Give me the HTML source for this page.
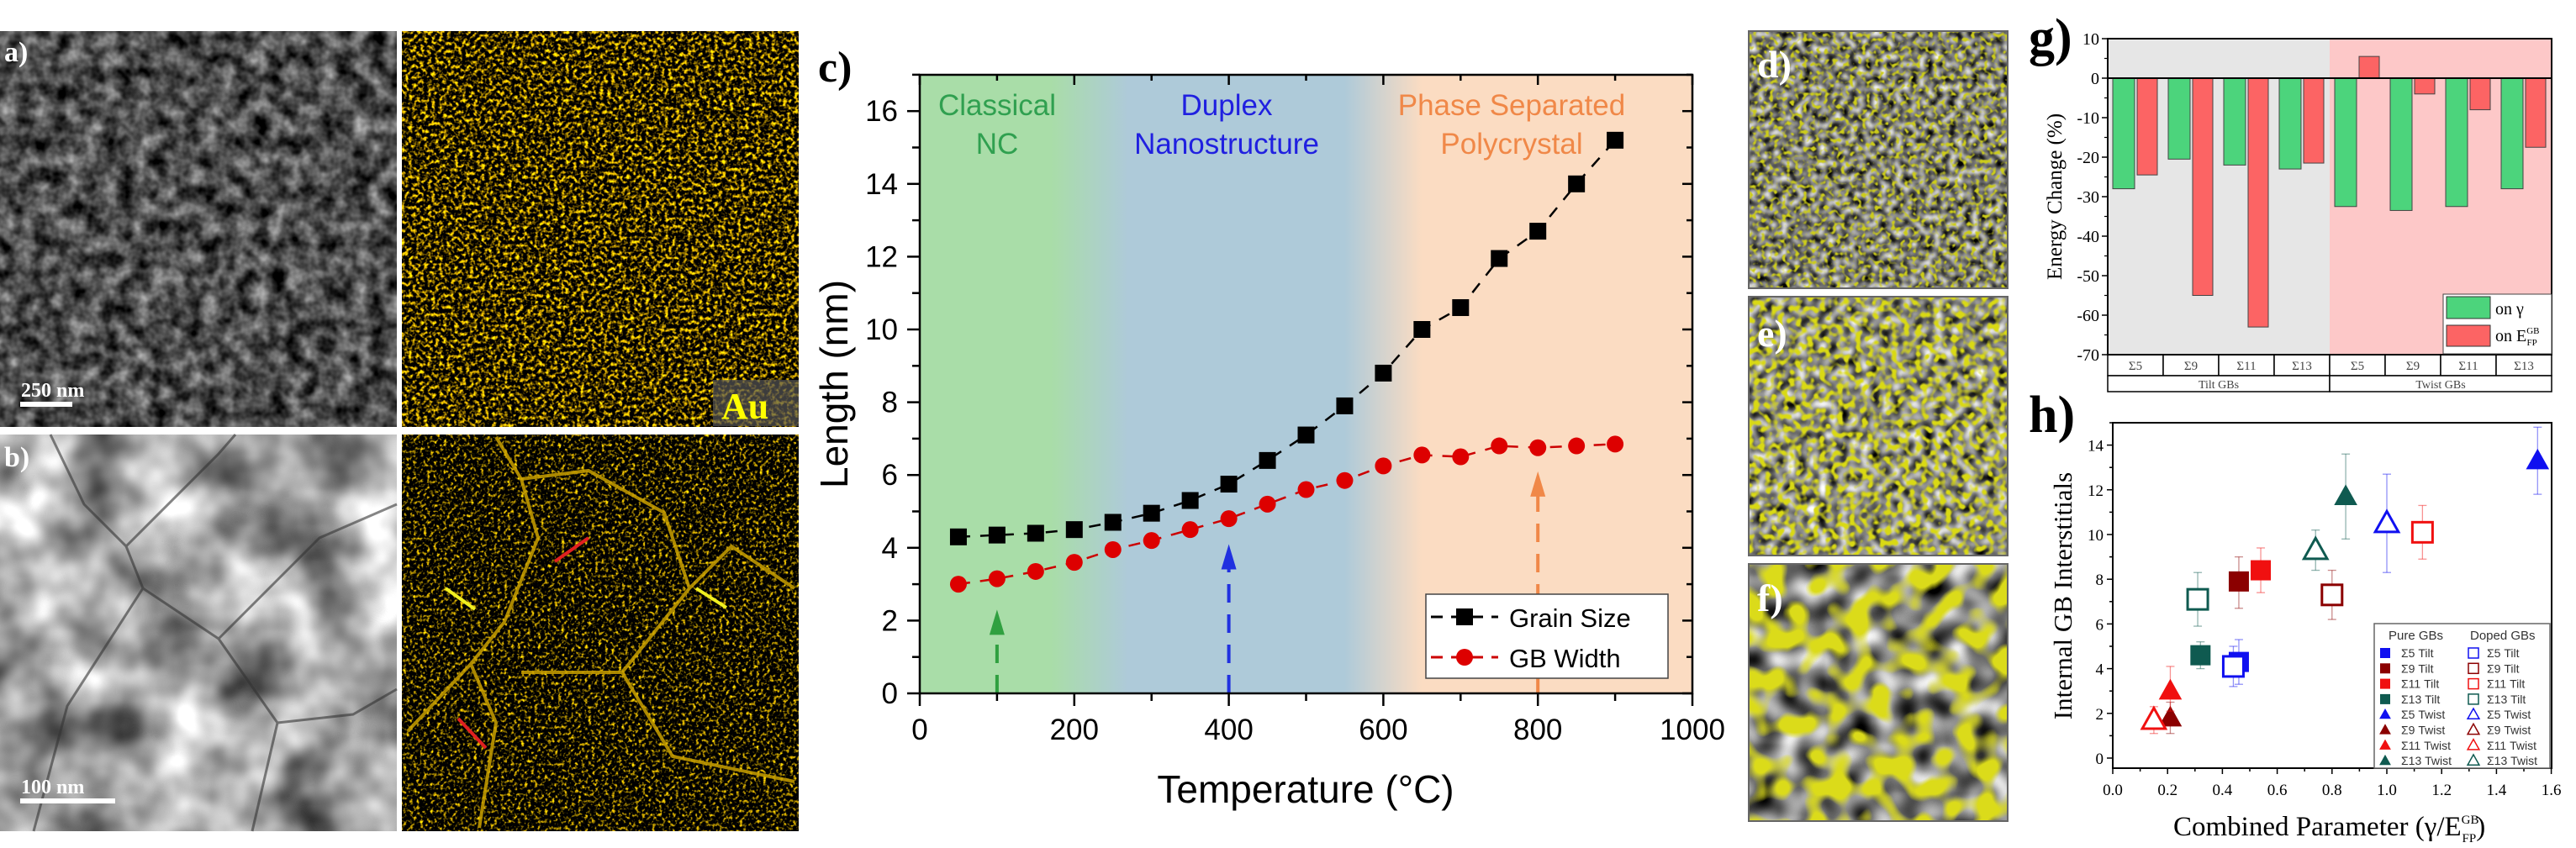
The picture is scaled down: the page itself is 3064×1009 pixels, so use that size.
<!DOCTYPE html><html><head><meta charset="utf-8"><style>html,body{margin:0;padding:0;background:#fff}svg{display:block}filter{color-interpolation-filters:sRGB}</style></head><body>
<svg id="s" width="3064" height="1009" xmlns="http://www.w3.org/2000/svg" font-family="Liberation Sans, sans-serif">
<defs>
<filter id="sem" x="0" y="0" width="100%" height="100%" color-interpolation-filters="sRGB"><feTurbulence type="fractalNoise" baseFrequency="0.05" numOctaves="3" seed="3"/><feColorMatrix type="matrix" values="1.0 0 0 0 -0.2  1.0 0 0 0 -0.2  1.0 0 0 0 -0.2  0 0 0 0 1"/></filter>
<filter id="tem" x="0" y="0" width="100%" height="100%" color-interpolation-filters="sRGB"><feTurbulence type="fractalNoise" baseFrequency="0.012" numOctaves="3" seed="7"/><feColorMatrix type="matrix" values="1.4 0 0 0 -0.05  1.4 0 0 0 -0.05  1.4 0 0 0 -0.05  0 0 0 0 1"/></filter>
<filter id="au" x="0" y="0" width="100%" height="100%" color-interpolation-filters="sRGB"><feTurbulence type="fractalNoise" baseFrequency="0.22" numOctaves="2" seed="5"/><feColorMatrix type="matrix" values="3.6 0 0 0 -1.6  2.9 0 0 0 -1.3  0 0 0 0 0  0 0 0 0 1"/></filter>
<filter id="au2" x="0" y="0" width="100%" height="100%" color-interpolation-filters="sRGB"><feTurbulence type="fractalNoise" baseFrequency="0.25" numOctaves="2" seed="9"/><feColorMatrix type="matrix" values="3.6 0 0 0 -1.8  2.9 0 0 0 -1.45  0 0 0 0 0  0 0 0 0 1"/></filter>
<filter id="gr1" x="0" y="0" width="100%" height="100%" color-interpolation-filters="sRGB">
<feTurbulence type="fractalNoise" baseFrequency="0.11" numOctaves="1" seed="2" result="n"/><feColorMatrix in="n" type="matrix" values="1.6 0 0 0 -0.35  1.6 0 0 0 -0.35  1.6 0 0 0 -0.35  0 0 0 0 1" result="g"/>
<feTurbulence type="fractalNoise" baseFrequency="0.2" numOctaves="1" seed="12" result="m"/><feColorMatrix in="m" type="matrix" values="0 0 0 0 0.8  0 0 0 0 0.8  0 0 0 0 0.1  5 0 0 0 -2.5" result="y"/>
<feComposite in="y" in2="g" operator="over"/></filter>
<filter id="gr2" x="0" y="0" width="100%" height="100%" color-interpolation-filters="sRGB">
<feTurbulence type="fractalNoise" baseFrequency="0.08" numOctaves="1" seed="4" result="n"/><feColorMatrix in="n" type="matrix" values="1.7 0 0 0 -0.35  1.7 0 0 0 -0.35  1.7 0 0 0 -0.35  0 0 0 0 1" result="g"/>
<feTurbulence type="fractalNoise" baseFrequency="0.14" numOctaves="1" seed="14" result="m"/><feColorMatrix in="m" type="matrix" values="0 0 0 0 0.85  0 0 0 0 0.85  0 0 0 0 0.08  5 0 0 0 -2.3" result="y"/>
<feComposite in="y" in2="g" operator="over"/></filter>
<filter id="gr3" x="0" y="0" width="100%" height="100%" color-interpolation-filters="sRGB">
<feTurbulence type="fractalNoise" baseFrequency="0.035" numOctaves="1" seed="8" result="n"/><feColorMatrix in="n" type="matrix" values="1.8 0 0 0 -0.4  1.8 0 0 0 -0.4  1.8 0 0 0 -0.4  0 0 0 0 1" result="g"/>
<feTurbulence type="fractalNoise" baseFrequency="0.04" numOctaves="1" seed="18" result="m"/><feColorMatrix in="m" type="matrix" values="0 0 0 0 0.86  0 0 0 0 0.86  0 0 0 0 0.1  6 0 0 0 -2.7" result="y"/>
<feComposite in="y" in2="g" operator="over"/></filter>
<linearGradient id="bg" x1="0" x2="1" y1="0" y2="0">
<stop offset="0" stop-color="#a9dda8"/><stop offset="0.17" stop-color="#a9dda8"/><stop offset="0.27" stop-color="#aecad9"/><stop offset="0.55" stop-color="#aecad9"/><stop offset="0.65" stop-color="#fbdcc2"/><stop offset="1" stop-color="#fbdcc2"/></linearGradient>
</defs>
<rect x="0" y="37" width="472" height="471" fill="#444" filter="url(#sem)"/>
<rect x="478" y="37" width="472" height="471" fill="#000" filter="url(#au)"/>
<rect x="0" y="517" width="472" height="472" fill="#999" filter="url(#tem)"/>
<g fill="none" stroke="#333" stroke-width="3" opacity="0.6">
<path d="M60 517 L100 600 L150 650 L170 700 L80 840 L40 989"/><path d="M150 650 L260 540 L280 517"/><path d="M170 700 L260 760 L330 860 L300 989"/><path d="M260 760 L380 640 L472 600"/><path d="M330 860 L420 850 L472 820"/></g>
<rect x="478" y="517" width="472" height="472" fill="#000" filter="url(#au2)"/>
<g fill="none" stroke="#c9a000" stroke-width="4" opacity="0.85">
<path d="M590 520 L620 570 L640 640 L600 740 L560 790 L590 860 L570 985"/>
<path d="M620 570 L700 560 L790 610 L820 700 L740 800 L620 800"/>
<path d="M820 700 L870 650 L945 700"/><path d="M740 800 L800 900 L945 930"/><path d="M560 790 L485 870"/>
</g>
<g stroke-width="4"><line x1="700" y1="640" x2="660" y2="668" stroke="#e02020"/><line x1="545" y1="855" x2="578" y2="890" stroke="#e02020"/>
<line x1="530" y1="700" x2="565" y2="725" stroke="#f0f020"/><line x1="864" y1="723" x2="828" y2="700" stroke="#f0f020"/></g>
<g font-family="Liberation Serif, serif" font-weight="bold" fill="#fff">
<text x="5" y="73" font-size="34">a)</text><text x="5" y="555" font-size="34">b)</text>
<text x="25" y="472" font-size="24">250 nm</text><text x="25" y="944" font-size="24">100 nm</text></g>
<rect x="24" y="478" width="62" height="6" fill="#fff"/><rect x="24" y="950" width="113" height="6" fill="#fff"/>
<rect x="848" y="452" width="102" height="55" fill="#555" opacity="0.7"/>
<text x="858" y="498" font-family="Liberation Serif, serif" font-weight="bold" font-size="44" fill="#ffff00">Au</text>
<rect x="1094" y="89" width="919" height="736" fill="url(#bg)"/>
<g id="c"></g>
<text x="973" y="97" font-family="Liberation Serif, serif" font-weight="bold" font-size="52">c)</text>
<g font-size="35" text-anchor="middle">
<text x="1186" y="137" fill="#30a050">Classical</text><text x="1186" y="183" fill="#30a050">NC</text>
<text x="1459" y="137" fill="#2020e0">Duplex</text><text x="1459" y="183" fill="#2020e0">Nanostructure</text>
<text x="1798" y="137" fill="#f08848">Phase Separated</text><text x="1798" y="183" fill="#f08848">Polycrystal</text></g>
<text x="1553" y="955" font-size="46" text-anchor="middle">Temperature (°C)</text>
<text transform="translate(1008,457) rotate(-90)" font-size="46" text-anchor="middle">Length (nm)</text>
<rect x="1696" y="707" width="288" height="100" fill="#fff" stroke="#444" stroke-width="1.5"/>
<line x1="1702" y1="734" x2="1782" y2="734" stroke="#000" stroke-width="3" stroke-dasharray="14,10"/><rect x="1732" y="724" width="20" height="20" fill="#000"/>
<line x1="1702" y1="782" x2="1782" y2="782" stroke="#c00" stroke-width="3" stroke-dasharray="14,10"/><circle cx="1742" cy="782" r="10" fill="#d00"/>
<text x="1795" y="746" font-size="31">Grain Size</text><text x="1795" y="794" font-size="31">GB Width</text>
<rect x="2080" y="37" width="308" height="306" fill="#888" filter="url(#gr1)"/>
<rect x="2080" y="353" width="308" height="308" fill="#888" filter="url(#gr2)"/>
<rect x="2080" y="671" width="308" height="306" fill="#cc2" filter="url(#gr3)"/>
<g fill="none" stroke="#666" stroke-width="2"><rect x="2080" y="37" width="308" height="306"/><rect x="2080" y="353" width="308" height="308"/><rect x="2080" y="671" width="308" height="306"/></g>
<g font-family="Liberation Serif, serif" font-weight="bold" font-size="46" fill="#fff">
<text x="2090" y="92">d)</text><text x="2090" y="412">e)</text><text x="2090" y="727">f)</text></g>
<rect x="2507" y="46" width="264" height="376" fill="#e6e6e6"/><rect x="2771" y="46" width="264" height="376" fill="#fdc8c8"/>
<g id="g"></g>
<text x="2413" y="65" font-family="Liberation Serif, serif" font-weight="bold" font-size="62">g)</text>
<text x="2413" y="514" font-family="Liberation Serif, serif" font-weight="bold" font-size="62">h)</text>
<g id="h"></g>
</svg>
<script>
const NS="http://www.w3.org/2000/svg";
function el(p,t,a,txt){const e=document.createElementNS(NS,t);for(const k in a)e.setAttribute(k,a[k]);if(txt!==undefined)e.textContent=txt;p.appendChild(e);return e;}
const SER='Liberation Serif, serif';
const c=document.getElementById('c');
const cx=T=>1094+T*0.919, cy=L=>825-L*43.3;
const Ts=[50,100,150,200,250,300,350,400,450,500,550,600,650,700,750,800,850,900];
const G=[4.3,4.35,4.4,4.5,4.7,4.95,5.3,5.75,6.4,7.1,7.9,8.8,10.0,10.6,11.95,12.7,14.0,15.2];
const W=[3.0,3.15,3.35,3.6,3.95,4.2,4.5,4.8,5.2,5.6,5.85,6.25,6.55,6.5,6.8,6.75,6.8,6.85];
[[100,2.3,'#30a040'],[400,4.1,'#2030e0'],[800,6.1,'#f08848']].forEach(([T,L,col])=>{
el(c,'line',{x1:cx(T),y1:825,x2:cx(T),y2:cy(L)+26,stroke:col,'stroke-width':4,'stroke-dasharray':'22,14'});
el(c,'polygon',{points:`${cx(T)-9},${cy(L)+30} ${cx(T)+9},${cy(L)+30} ${cx(T)},${cy(L)}`,fill:col});});
el(c,'polyline',{points:Ts.map((t,i)=>cx(t)+','+cy(G[i])).join(' '),fill:'none',stroke:'#000','stroke-width':2.5,'stroke-dasharray':'14,12'});
el(c,'polyline',{points:Ts.map((t,i)=>cx(t)+','+cy(W[i])).join(' '),fill:'none',stroke:'#c00','stroke-width':2.5,'stroke-dasharray':'14,12'});
Ts.forEach((t,i)=>{el(c,'rect',{x:cx(t)-10,y:cy(G[i])-10,width:20,height:20,fill:'#000'});el(c,'circle',{cx:cx(t),cy:cy(W[i]),r:10,fill:'#d00'});});
el(c,'rect',{x:1094,y:89,width:919,height:736,fill:'none',stroke:'#000','stroke-width':2.5});
for(let T=0;T<=1000;T+=100){const M=T%200==0;el(c,'line',{x1:cx(T),x2:cx(T),y1:825,y2:825+(M?15:9),stroke:'#000','stroke-width':2.5});el(c,'line',{x1:cx(T),x2:cx(T),y1:89,y2:89+(M?12:7),stroke:'#000','stroke-width':2.5});
if(M)el(c,'text',{x:cx(T),y:880,'font-size':35,'text-anchor':'middle'},T);}
for(let L=0;L<=17;L++){const M=L%2==0;el(c,'line',{x1:1094,x2:1094-(M?15:9),y1:cy(L),y2:cy(L),stroke:'#000','stroke-width':2.5});el(c,'line',{x1:2013,x2:2013-(M?12:7),y1:cy(L),y2:cy(L),stroke:'#000','stroke-width':2.5});
if(M)el(c,'text',{x:1068,y:cy(L)+12,'font-size':35,'text-anchor':'end'},L);}
const g=document.getElementById('g');
const gy=v=>93-v*4.7;
const gv=[[-28,-24.5],[-20.5,-55],[-22,-63],[-23,-21.5],[-32.5,5.5],[-33.5,-4],[-32.5,-8],[-28,-17.5]];
const gw=66;
gv.forEach((v,i)=>{const x0=2507+i*gw;
el(g,'rect',{x:x0+6,y:Math.min(gy(0),gy(v[0])),width:26,height:Math.abs(gy(v[0])-gy(0)),fill:'#4cd47c',stroke:'#444','stroke-width':1});
el(g,'rect',{x:x0+35,y:Math.min(gy(0),gy(v[1])),width:24,height:Math.abs(gy(v[1])-gy(0)),fill:'#fc6464',stroke:'#444','stroke-width':1});
el(g,'rect',{x:x0,y:422,width:gw,height:25,fill:'#fff',stroke:'#000','stroke-width':1.5});
el(g,'text',{x:x0+gw/2,y:440,'font-size':15,'text-anchor':'middle','font-family':SER,fill:'#444'},['Σ5','Σ9','Σ11','Σ13'][i%4]);});
el(g,'rect',{x:2507,y:447,width:264,height:19,fill:'#fff',stroke:'#000','stroke-width':1.5});
el(g,'rect',{x:2771,y:447,width:264,height:19,fill:'#fff',stroke:'#000','stroke-width':1.5});
el(g,'text',{x:2639,y:462,'font-size':14,'text-anchor':'middle','font-family':SER,fill:'#444'},'Tilt GBs');
el(g,'text',{x:2903,y:462,'font-size':14,'text-anchor':'middle','font-family':SER,fill:'#444'},'Twist GBs');
el(g,'line',{x1:2507,x2:3035,y1:gy(0),y2:gy(0),stroke:'#000','stroke-width':2});
el(g,'rect',{x:2507,y:46,width:528,height:376,fill:'none',stroke:'#000','stroke-width':2});
for(let v=10;v>=-70;v-=10){el(g,'line',{x1:2507,x2:2500,y1:gy(v),y2:gy(v),stroke:'#000','stroke-width':1.5});
el(g,'text',{x:2497,y:gy(v)+7,'font-size':20,'text-anchor':'end','font-family':SER},v);
if(v>-70)el(g,'line',{x1:2507,x2:2503,y1:gy(v-5),y2:gy(v-5),stroke:'#000','stroke-width':1.2});}
el(g,'text',{transform:'translate(2452,234) rotate(-90)','font-size':25,'text-anchor':'middle','font-family':SER},'Energy Change (%)');
el(g,'rect',{x:2906,y:350,width:129,height:71,fill:'#fff',stroke:'#444','stroke-width':1});
el(g,'rect',{x:2910,y:353,width:52,height:26,fill:'#4cd47c',stroke:'#333'});el(g,'rect',{x:2910,y:387,width:52,height:25,fill:'#fc6464',stroke:'#333'});
el(g,'text',{x:2968,y:374,'font-size':20,'font-family':SER},'on  γ');
const gl=el(g,'text',{x:2968,y:406,'font-size':20,'font-family':SER},'on  E');
el(gl,'tspan',{dy:-9,'font-size':11},'GB');el(gl,'tspan',{dx:-15,dy:14,'font-size':11},'FP');
const h=document.getElementById('h');
const hx=x=>2513+x*326, hy=y=>902-y*26.6;
el(h,'rect',{x:2513,y:503,width:522,height:411,fill:'#fff',stroke:'#000','stroke-width':2});
for(let i=0;i<=16;i++){const x=i/10;const M=i%2==0;el(h,'line',{x1:hx(x),x2:hx(x),y1:914,y2:914+(M?7:4),stroke:'#000','stroke-width':1.5});
if(M)el(h,'text',{x:hx(x),y:946,'font-size':19,'text-anchor':'middle','font-family':SER},x.toFixed(1));}
for(let y=0;y<=15;y++){const M=y%2==0;el(h,'line',{x1:2513,x2:2513-(M?7:4),y1:hy(y),y2:hy(y),stroke:'#000','stroke-width':1.5});
if(M)el(h,'text',{x:2502,y:hy(y)+7,'font-size':19,'text-anchor':'end','font-family':SER},y);}
el(h,'text',{transform:'translate(2464,709) rotate(-90)','font-size':31,'text-anchor':'middle','font-family':SER},'Internal GB Interstitials');
const tt=el(h,'text',{x:2585,y:994,'font-size':33,'font-family':SER},'Combined Parameter (γ/E');
el(tt,'tspan',{dy:-14,'font-size':15},'GB');el(tt,'tspan',{dx:-20,dy:22,'font-size':15},'FP');el(tt,'tspan',{dy:-8},')');
const B='#1010f0',DR='#8b0000',R='#f01010',TE='#0f5a50';
const pts=[[0.46,4.3,3.3,5.3,B,'s',1],[0.44,4.1,3.2,5.0,B,'s',0],[0.46,7.9,6.7,9.0,DR,'s',1],[0.80,7.3,6.2,8.4,DR,'s',0],
[0.54,8.4,7.4,9.4,R,'s',1],[1.13,10.1,8.9,11.3,R,'s',0],[0.32,4.6,4.0,5.2,TE,'s',1],[0.31,7.1,5.9,8.3,TE,'s',0],
[1.55,13.3,11.8,14.8,B,'t',1],[1.0,10.5,8.3,12.7,B,'t',0],[0.21,1.8,1.1,2.5,DR,'t',1],[0.21,3.0,2.1,4.1,R,'t',1],
[0.15,1.7,1.1,2.3,R,'t',0],[0.85,11.7,9.8,13.6,TE,'t',1],[0.74,9.3,8.4,10.2,TE,'t',0]];
function mk(p,x,y,col,sh,f,s){const a=f?{fill:col}:{fill:'#fff',stroke:col,'stroke-width':s>8?3:1.5};
if(sh=='s')el(p,'rect',Object.assign({x:x-s,y:y-s,width:2*s,height:2*s},a));
else el(p,'polygon',Object.assign({points:`${x-s*1.15},${y+s*0.85} ${x+s*1.15},${y+s*0.85} ${x},${y-s*1.2}`},a));}
pts.forEach(p=>{const x=hx(p[0]);el(h,'line',{x1:x,x2:x,y1:hy(p[2]),y2:hy(p[3]),stroke:p[4],'stroke-width':1.3,opacity:0.45});
[p[2],p[3]].forEach(v=>el(h,'line',{x1:x-5,x2:x+5,y1:hy(v),y2:hy(v),stroke:p[4],'stroke-width':1.3,opacity:0.45}));
mk(h,x,hy(p[1]),p[4],p[5],p[6],12);});
el(h,'rect',{x:2824,y:742,width:209,height:172,fill:'#fff',stroke:'#666','stroke-width':1.5});
el(h,'text',{x:2841,y:761,'font-size':15,fill:'#333'},'Pure GBs');el(h,'text',{x:2938,y:761,'font-size':15,fill:'#333'},'Doped GBs');
const lab=['Σ5 Tilt','Σ9 Tilt','Σ11 Tilt','Σ13 Tilt','Σ5 Twist','Σ9 Twist','Σ11 Twist','Σ13 Twist'];
const cols=[B,DR,R,TE,B,DR,R,TE];
lab.forEach((l,i)=>{const y=777+i*18.3;mk(h,2837,y,cols[i],i<4?'s':'t',1,6);mk(h,2942,y,cols[i],i<4?'s':'t',0,6);
el(h,'text',{x:2856,y:y+5,'font-size':14,fill:'#333'},l);el(h,'text',{x:2958,y:y+5,'font-size':14,fill:'#333'},l);});
</script>
</body></html>
